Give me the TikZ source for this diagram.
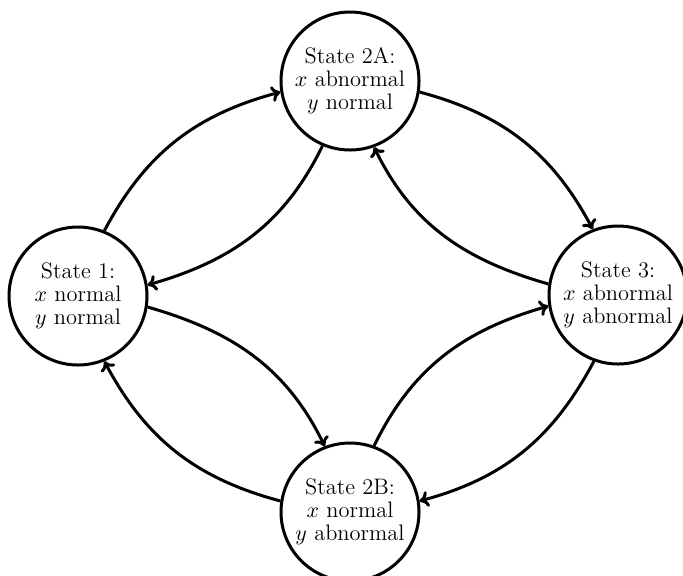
\documentclass[tikz,border=0pt]{standalone}
\usetikzlibrary{arrows.meta}
\begin{document}
\begin{tikzpicture}[x=0.5pt,y=0.5pt,
  state/.style={circle, draw, line width=1.5pt, minimum size=69pt, inner sep=0pt, align=center,
    font=\fontsize{11.2}{11.5}\selectfont},
  edge/.style={line width=1.5pt, -{To[length=4.5pt,width=8pt]}}]
\useasboundingbox (0,0) rectangle (683,-575);
\node[state] (s1)  at (78,-296)  {State 1:\\ $x$ normal\\ $y$ normal};
\node[state] (s2a) at (350,-81)  {State 2A:\\ $x$ abnormal\\ $y$ normal};
\node[state] (s3)  at (618,-295) {State 3:\\ $x$ abnormal\\ $y$ abnormal};
\node[state] (s2b) at (350,-512) {State 2B:\\ $x$ normal\\ $y$ abnormal};
\draw[edge] (s1.68)   to[out=62,in=195]   (s2a.189);
\draw[edge] (s2a.247) to[out=244,in=16]   (s1.9);
\draw[edge] (s2a.-9)  to[out=-15,in=118]  (s3.111);
\draw[edge] (s3.171)  to[out=164,in=-64]  (s2a.-70);
\draw[edge] (s1.-9)   to[out=-16,in=116]  (s2b.111);
\draw[edge] (s2b.171) to[out=165,in=-62]  (s1.-68);
\draw[edge] (s2b.70)  to[out=64,in=196]   (s3.189);
\draw[edge] (s3.250)  to[out=-118,in=15]  (s2b.9);
\end{tikzpicture}
\end{document}
